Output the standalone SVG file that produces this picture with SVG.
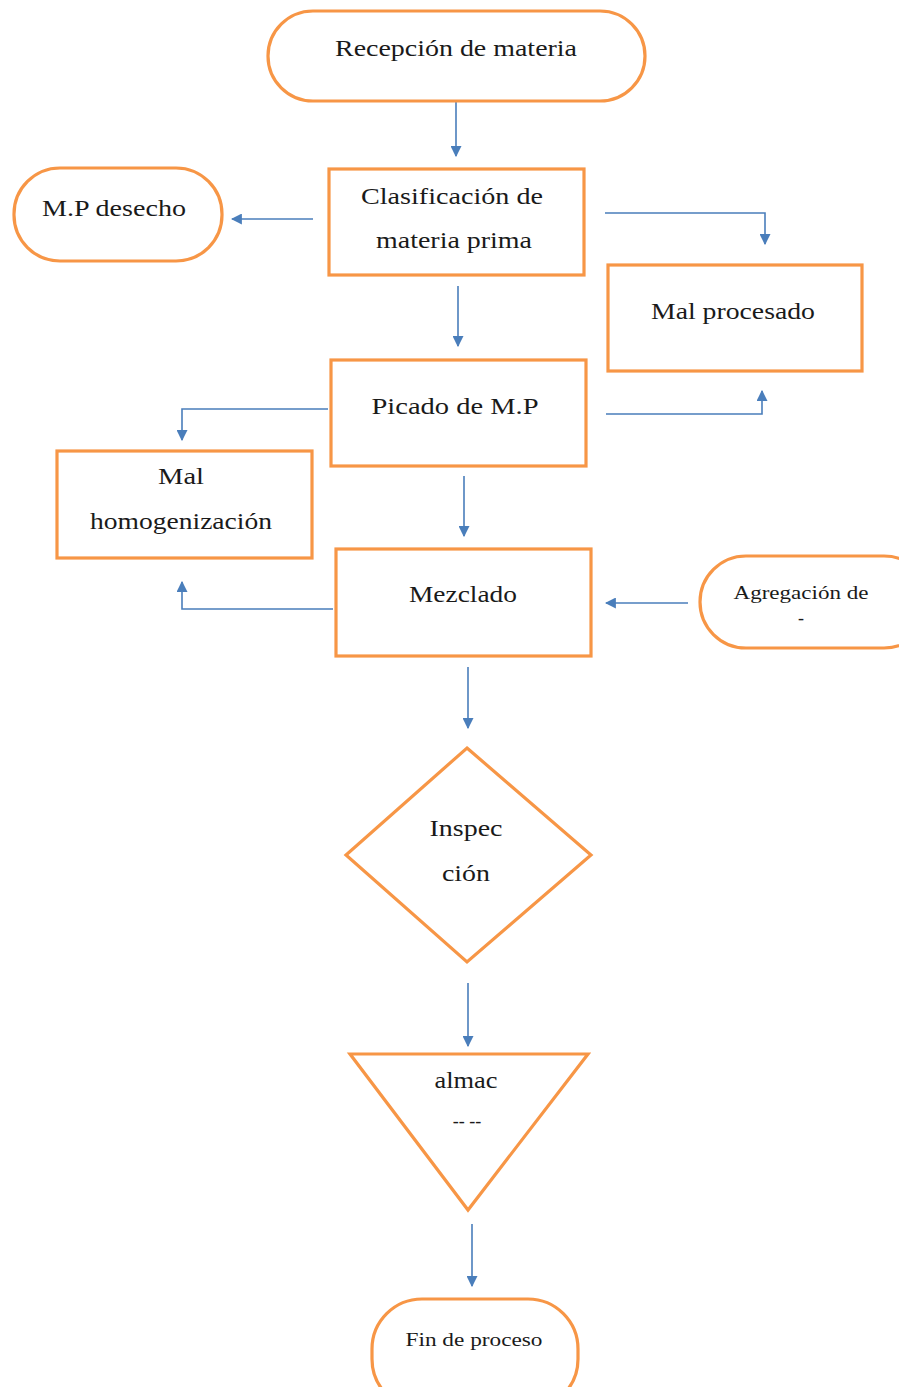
<svg xmlns="http://www.w3.org/2000/svg" width="899" height="1387" viewBox="0 0 899 1387">
<defs>
<marker id="ah" viewBox="0 0 10 10" refX="9" refY="5" markerWidth="11" markerHeight="11" markerUnits="userSpaceOnUse" orient="auto">
<path d="M0,0 L10,5 L0,10 z" fill="#4A7EBB"/>
</marker>
<style>
.n{fill:#fff;stroke:#F79646;stroke-width:3.2}
.t{font-family:"Liberation Serif","Times New Roman",Tinos,serif;font-size:23px;fill:#1a1a1a;text-anchor:middle}
.s{font-size:18px}
.c{fill:none;stroke:#4A7EBB;stroke-width:1.6;marker-end:url(#ah)}
</style>
</defs>
<rect width="899" height="1387" fill="#fff"/>
<g id="connectors">
<path class="c" d="M456,95 L456,156"/>
<path class="c" d="M313,219 L232,219"/>
<path class="c" d="M605,213 L765,213 L765,244"/>
<path class="c" d="M458,286 L458,346"/>
<path class="c" d="M606,414 L762,414 L762,391"/>
<path class="c" d="M328,409 L182,409 L182,440"/>
<path class="c" d="M464,476 L464,536"/>
<path class="c" d="M333,609 L182,609 L182,582"/>
<path class="c" d="M688,603 L606,603"/>
<path class="c" d="M468,667 L468,728"/>
<path class="c" d="M468,983 L468,1046"/>
<path class="c" d="M472,1224 L472,1286"/>
</g>
<g id="recepcion">
<rect class="n" x="268" y="11" width="377" height="90" rx="45"/>
<text class="t" x="456" y="56" textLength="242" lengthAdjust="spacingAndGlyphs">Recepción  de materia</text>
</g>
<g id="clasificacion">
<rect class="n" x="329" y="169" width="255" height="106"/>
<text class="t" x="452" y="204" textLength="182" lengthAdjust="spacingAndGlyphs">Clasificación  de</text>
<text class="t" x="454" y="248" textLength="156" lengthAdjust="spacingAndGlyphs">materia  prima</text>
</g>
<g id="mp-desecho">
<rect class="n" x="14" y="168" width="208" height="93" rx="46"/>
<text class="t" x="114" y="216" textLength="144" lengthAdjust="spacingAndGlyphs">M.P desecho</text>
</g>
<g id="mal-procesado">
<rect class="n" x="608" y="265" width="254" height="106"/>
<text class="t" x="733" y="319" textLength="164" lengthAdjust="spacingAndGlyphs">Mal procesado</text>
</g>
<g id="picado">
<rect class="n" x="331" y="360" width="255" height="106"/>
<text class="t" x="455" y="414" textLength="167" lengthAdjust="spacingAndGlyphs">Picado de M.P</text>
</g>
<g id="mal-homogenizacion">
<rect class="n" x="57" y="451" width="255" height="107"/>
<text class="t" x="181" y="484" textLength="46" lengthAdjust="spacingAndGlyphs">Mal</text>
<text class="t" x="181" y="529" textLength="182" lengthAdjust="spacingAndGlyphs">homogenización</text>
</g>
<g id="mezclado">
<rect class="n" x="336" y="549" width="255" height="107"/>
<text class="t" x="463" y="602" textLength="108" lengthAdjust="spacingAndGlyphs">Mezclado</text>
</g>
<g id="agregacion">
<rect class="n" x="700" y="556" width="230" height="92" rx="46"/>
<text class="t s" x="801" y="599" textLength="135" lengthAdjust="spacingAndGlyphs">Agregación de</text>
<text class="t s" x="801" y="624">-</text>
</g>
<g id="inspeccion">
<polygon class="n" points="467,748 591,855 467,962 346,855"/>
<text class="t" x="466" y="836" textLength="73" lengthAdjust="spacingAndGlyphs">Inspec</text>
<text class="t" x="466" y="881" textLength="48" lengthAdjust="spacingAndGlyphs">ción</text>
</g>
<g id="almacen">
<polygon class="n" points="350,1054 588,1054 468,1210"/>
<text class="t" x="466" y="1088" textLength="63" lengthAdjust="spacingAndGlyphs">almac</text>
<text class="t s" x="467" y="1127">-- --</text>
</g>
<g id="fin">
<rect class="n" x="372" y="1299" width="206" height="110" rx="50"/>
<text class="t s" x="474" y="1346" textLength="137" lengthAdjust="spacingAndGlyphs">Fin de proceso</text>
</g>
</svg>
